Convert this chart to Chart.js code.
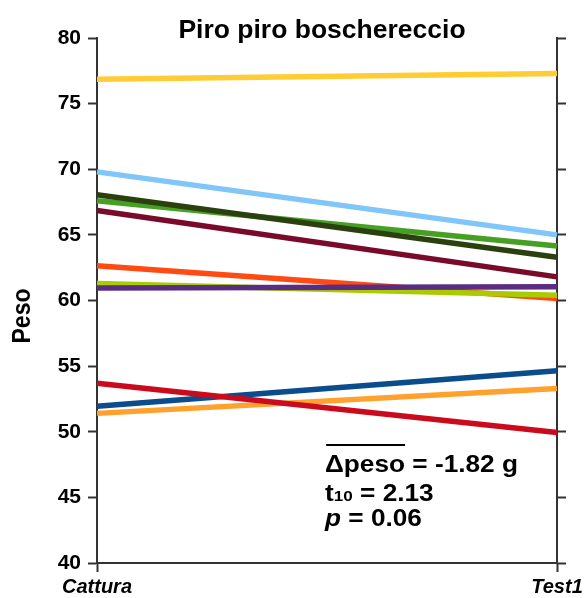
<!DOCTYPE html>
<html>
<head>
<meta charset="utf-8">
<script src="https://cdn.jsdelivr.net/npm/chart.js@4"></script>
<style>
html,body{margin:0;padding:0;background:#fff;}
canvas{display:block;}
</style>
</head>
<body>
<canvas id="c" width="587" height="598"></canvas>
<script>
const categories = ['Cattura', 'Test1'];
const yTicks = [40, 45, 50, 55, 60, 65, 70, 75, 80];
// each bird: [Cattura, Test1]
const redBird       = [53.7, 49.95];
const blueBird      = [51.95, 54.65];
const orangeBird    = [51.4, 53.3];
const darkGreenBird = [68.05, 63.3];
const greenBird     = [67.6, 64.15];
const maroonBird    = [66.85, 61.8];
const lightBlueBird = [69.8, 65.0];
const yellowBird    = [76.85, 77.3];
const purpleBird    = [60.95, 61.05];
const limeBird      = [61.3, 60.4];
const orangeRedBird = [62.65, 60.15];

const series = [
  {data: redBird, color: '#CC0A1E'},
  {data: blueBird, color: '#0B4C8C'},
  {data: orangeBird, color: '#FFA12C'},
  {data: darkGreenBird, color: '#2B400F'},
  {data: greenBird, color: '#46A024'},
  {data: maroonBird, color: '#7A0A2A'},
  {data: lightBlueBird, color: '#80C6F8'},
  {data: yellowBird, color: '#FFCC33'},
  {data: purpleBird, color: '#5B2C83'},
  {data: limeBird, color: '#A8CC00'},
  {data: orangeRedBird, color: '#FF4A12'}
];

const FONT = '"Liberation Sans", Arial, Helvetica, sans-serif';

const textPlugin = {
  id: 'texts',
  afterDraw(chart) {
    const ctx = chart.ctx;
    ctx.save();
    ctx.fillStyle = '#000';
    // title
    ctx.save();
    ctx.font = 'bold 25px ' + FONT;
    ctx.textAlign = 'center';
    ctx.textBaseline = 'alphabetic';
    ctx.translate(322, 38);
    ctx.scale(1.06, 1);
    ctx.fillText('Piro piro boschereccio', 0, 0);
    ctx.restore();
    // y title
    ctx.save();
    ctx.font = 'bold 22px ' + FONT;
    ctx.textAlign = 'center';
    ctx.textBaseline = 'middle';
    ctx.translate(23, 316);
    ctx.rotate(-Math.PI / 2);
    ctx.scale(1.05, 1.15);
    ctx.fillText('Peso', 0, 0);
    ctx.restore();
    // annotation
    const sx = 1.14;
    ctx.save();
    ctx.translate(325, 0);
    ctx.scale(sx, 1);
    ctx.textAlign = 'left';
    ctx.textBaseline = 'alphabetic';
    ctx.font = 'bold 23px ' + FONT;
    ctx.fillText('\u0394peso = -1.82 g', 0, 472);
    const wDelta = ctx.measureText('\u0394peso').width;
    ctx.fillRect(1, 444, wDelta - 1, 2);
    ctx.fillText('t', 0, 500.5);
    let x = ctx.measureText('t').width;
    ctx.font = 'bold 15px ' + FONT;
    ctx.fillText('10', x, 500.5);
    x += ctx.measureText('10').width;
    ctx.font = 'bold 23px ' + FONT;
    ctx.fillText(' = 2.13', x, 500.5);
    ctx.font = 'italic bold 23px ' + FONT;
    ctx.fillText('p', 0, 525.5);
    x = ctx.measureText('p').width;
    ctx.font = 'bold 23px ' + FONT;
    ctx.fillText(' = 0.06', x, 525.5);
    ctx.restore();
    ctx.restore();
  }
};

new Chart(document.getElementById('c'), {
  type: 'line',
  data: {
    labels: categories,
    datasets: series.map(s => ({
      data: s.data,
      borderColor: s.color,
      backgroundColor: s.color,
      borderWidth: 5.5,
      pointRadius: 0,
      tension: 0,
      fill: false,
      yAxisID: 'y'
    }))
  },
  options: {
    responsive: false,
    animation: false,
    events: [],
    layout: {padding: {top: 38, left: 0, right: 0, bottom: 0}},
    plugins: {
      legend: {display: false},
      tooltip: {enabled: false},
      title: {display: false}
    },
    scales: {
      x: {
        type: 'category',
        offset: false,
        grid: {drawOnChartArea: false, drawTicks: true, tickLength: 9, tickColor: '#333', tickWidth: 2},
        border: {display: true, color: '#333', width: 2},
        ticks: {
          color: '#000',
          padding: 3,
          maxRotation: 0,
          autoSkip: false,
          font: {family: FONT, size: 20, weight: 'bold', style: 'italic'}
        },
        afterFit(scale) { scale.height = 35; }
      },
      y: {
        type: 'linear',
        position: 'left',
        min: 40,
        max: 80,
        afterBuildTicks(scale) { scale.ticks = yTicks.map(v => ({value: v})); },
        grid: {drawOnChartArea: false, drawTicks: true, tickLength: 9, tickColor: '#333', tickWidth: 2},
        border: {display: true, color: '#333', width: 2},
        ticks: {
          color: '#000',
          padding: 7,
          font: {family: FONT, size: 21, weight: 'bold'}
        },
        afterFit(scale) { scale.width = 97; }
      },
      y2: {
        type: 'linear',
        position: 'right',
        min: 40,
        max: 80,
        afterBuildTicks(scale) { scale.ticks = yTicks.map(v => ({value: v})); },
        grid: {drawOnChartArea: false, drawTicks: true, tickLength: 9, tickColor: '#333', tickWidth: 2},
        border: {display: true, color: '#333', width: 2},
        ticks: {display: false},
        afterFit(scale) { scale.width = 30; }
      }
    }
  },
  plugins: [textPlugin]
});
</script>
</body>
</html>
